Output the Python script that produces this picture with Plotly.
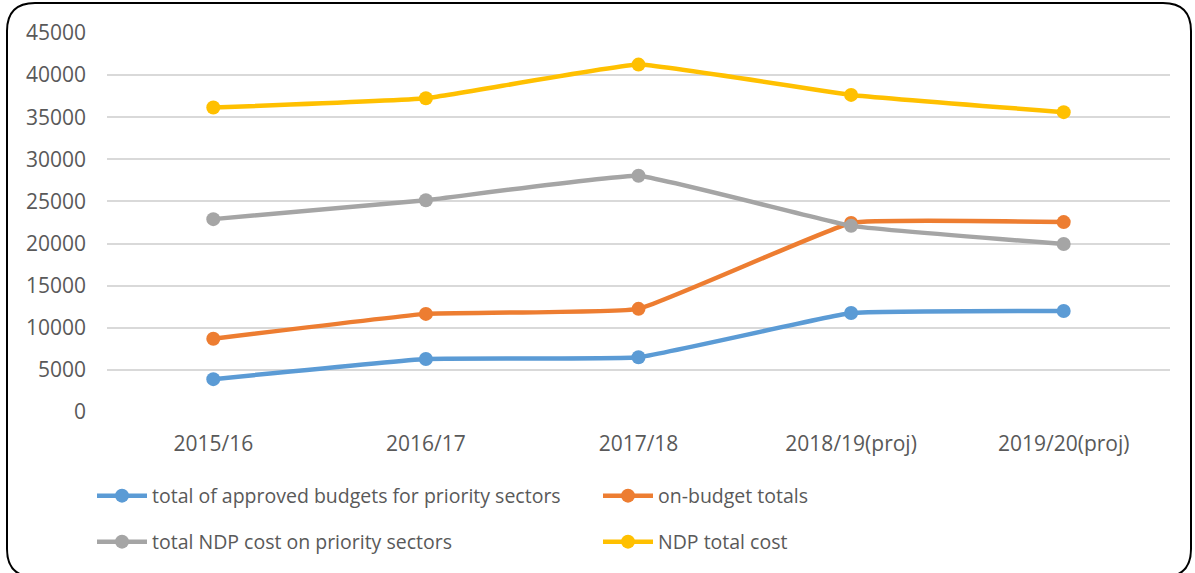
import plotly.graph_objects as go

# Fiscal years on the x axis
years = ["2015/16", "2016/17", "2017/18", "2018/19(proj)", "2019/20(proj)"]

# Series values
approved_budgets = [3900, 6300, 6500, 11750, 12000]
on_budget_totals = [8700, 11650, 12250, 22450, 22550]
ndp_priority_cost = [22900, 25150, 28050, 22100, 19950]
ndp_total_cost = [36150, 37250, 41250, 37650, 35600]

y_ticks = [0, 5000, 10000, 15000, 20000, 25000, 30000, 35000, 40000, 45000]

W, H = 1195, 573
L, R, T, B = 107, 25, 33, 161
PW, PH = W - L - R, H - T - B

FONT = "Open Sans"
TXT = "#595959"

series = [
    ("total of approved budgets for priority sectors", approved_budgets, "#5b9bd5", "legend"),
    ("on-budget totals", on_budget_totals, "#ed7d31", "legend"),
    ("total NDP cost on priority sectors", ndp_priority_cost, "#a5a5a5", "legend2"),
    ("NDP total cost", ndp_total_cost, "#ffc000", "legend2"),
]

fig = go.Figure()
for name, vals, col, lg in series:
    fig.add_trace(go.Scatter(
        x=years, y=vals, name=name, mode="lines+markers",
        line=dict(color=col, width=4.5, shape="spline", smoothing=0.28),
        marker=dict(color=col, size=14),
        legend=lg,
    ))


def px(x):
    return (x - L) / PW


def py(y):
    return (T + PH - y) / PH


# rounded frame around the whole chart
x0, y0, x1, y1, r = 7, 3, 1191, 577, 28
path = (
    f"M {px(x0 + r)} {py(y0)} L {px(x1 - r)} {py(y0)} "
    f"Q {px(x1)} {py(y0)} {px(x1)} {py(y0 + r)} "
    f"L {px(x1)} {py(y1 - r)} Q {px(x1)} {py(y1)} {px(x1 - r)} {py(y1)} "
    f"L {px(x0 + r)} {py(y1)} Q {px(x0)} {py(y1)} {px(x0)} {py(y1 - r)} "
    f"L {px(x0)} {py(y0 + r)} Q {px(x0)} {py(y0)} {px(x0 + r)} {py(y0)} Z"
)
fig.add_shape(type="path", path=path, xref="paper", yref="paper",
              line=dict(color="#000000", width=2), fillcolor="rgba(0,0,0,0)")

leg_common = dict(
    orientation="h", xanchor="left", yanchor="middle",
    x=px(92), entrywidth=441, entrywidthmode="pixels",
    font=dict(family=FONT, size=19.5, color=TXT),
    bgcolor="rgba(0,0,0,0)", itemwidth=50, tracegroupgap=0,
)

fig.update_layout(
    width=W, height=H,
    margin=dict(l=L, r=R, t=T, b=B),
    paper_bgcolor="white", plot_bgcolor="white",
    font=dict(family=FONT, size=21, color=TXT),
    legend=dict(y=py(496), **leg_common),
    legend2=dict(y=py(542), **leg_common),
    xaxis=dict(
        type="category", showgrid=False, showline=False, zeroline=False,
        ticks="", ticklabelstandoff=17,
        tickfont=dict(family=FONT, size=21, color=TXT),
        range=[-0.5, 4.5],
    ),
    yaxis=dict(
        range=[0, 45000], tickvals=y_ticks, ticktext=[str(v) for v in y_ticks],
        showgrid=True, gridcolor="#d9d9d9", gridwidth=1.5,
        zeroline=False, showline=False, ticks="", ticklabelstandoff=20,
        tickfont=dict(family=FONT, size=21, color=TXT),
    ),
)

fig.write_html("out.html")
